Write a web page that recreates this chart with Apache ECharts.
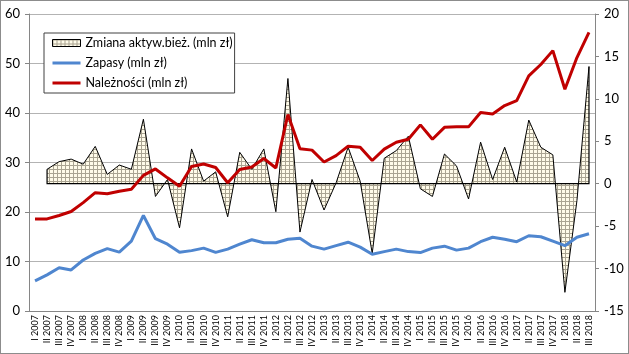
<!DOCTYPE html>
<html>
<head>
<meta charset="utf-8">
<script src="https://cdn.jsdelivr.net/npm/echarts@6/dist/echarts.min.js"></script>
<style>
  html, body { margin: 0; padding: 0; background: #fff; }
  #main { width: 627px; height: 352px; border: 1px solid #8c8c8c; }
</style>
</head>
<body>
<div id="main"></div>
<script>
// kwartały I 2007 - III 2018
var years = [2007, 2008, 2009, 2010, 2011, 2012, 2013, 2014, 2015, 2016, 2017, 2018];
var quarters = ['I', 'II', 'III', 'IV'];
var categories = [];
years.forEach(function (y) {
    quarters.forEach(function (q) {
        categories.push(q + ' ' + y);
    });
});
categories = categories.slice(0, 47);

var leftTicks = [0, 10, 20, 30, 40, 50, 60];
var rightTicks = [-15, -10, -5, 0, 5, 10, 15, 20];

// prawa oś
var zmiana = [null, 1.7, 2.6, 2.9, 2.3, 4.4, 1.1, 2.2, 1.7, 7.6, -1.5, 0.5, -5.2, 4.1, 0.3, 1.4,
    -3.9, 3.7, 1.7, 4.1, -3.3, 12.4, -5.7, 0.5, -3.1, 0.1, 4.3, 0.3, -8.2, 3.0, 3.9, 5.6,
    -0.6, -1.5, 3.5, 2.1, -1.8, 4.9, 0.5, 4.3, 0.2, 7.5, 4.3, 3.4, -12.8, -2.0, 13.8];
// lewa oś
var zapasy = [6.1, 7.3, 8.75, 8.3, 10.3, 11.65, 12.6, 11.9, 14.1, 19.3, 14.6, 13.5, 11.85, 12.2, 12.7, 11.85,
    12.5, 13.5, 14.4, 13.8, 13.8, 14.5, 14.7, 13.1, 12.5, 13.2, 13.9, 12.9, 11.45, 12.0, 12.5, 12.0,
    11.8, 12.7, 13.1, 12.3, 12.7, 14.0, 14.9, 14.5, 14.0, 15.2, 15.0, 14.1, 13.2, 14.9, 15.6];
var naleznosci = [18.6, 18.6, 19.3, 20.1, 21.9, 23.9, 23.7, 24.2, 24.6, 27.4, 28.7, 26.9, 25.2, 29.2, 29.7, 29.0,
    25.9, 28.6, 29.1, 30.8, 28.9, 39.7, 32.8, 32.5, 30.1, 31.4, 33.3, 33.1, 30.4, 32.7, 34.1, 34.7,
    37.6, 34.7, 37.1, 37.2, 37.2, 40.1, 39.8, 41.5, 42.5, 47.5, 49.8, 52.6, 44.8, 51.2, 56.3];

var nameZmiana = 'Zmiana aktyw.bież. (mln zł)';
var nameZapasy = 'Zapasy (mln zł)';
var nameNal = 'Należności (mln zł)';

// kratka do wypełnienia obszaru
var pat = document.createElement('canvas');
pat.width = 4;
pat.height = 4;
var ctx = pat.getContext('2d');
ctx.fillStyle = '#fffbe9';
ctx.fillRect(0, 0, 4, 4);
ctx.fillStyle = '#aaa492';
ctx.fillRect(0, 0, 4, 1);
ctx.fillRect(0, 0, 1, 4);
var hatch = { image: pat, repeat: 'repeat' };

// sama linia w legendzie, bez kółka
var lineIcon = 'path://M0,2H28V5H0Z M0,0H0.01V0.01H0Z M0,7H0.01V6.99H0Z';

var font = 'Lato';

var myChart = echarts.init(document.getElementById('main'));
var option = {
    animation: false,
    textStyle: { fontFamily: font },
    grid: { left: 28, right: 33, top: 13, bottom: 42 },
    legend: {
        orient: 'vertical',
        left: 43,
        top: 32,
        padding: [2, 2, 2, 8],
        itemGap: 4,
        itemWidth: 28,
        itemHeight: 7,
        itemTextGap: 1,
        borderColor: '#404040',
        borderWidth: 1,
        backgroundColor: '#fff',
        textStyle: { fontSize: 12.5, color: '#000', fontFamily: font, lineHeight: 16 },
        data: [
            { name: nameZmiana, icon: 'rect', itemStyle: { color: hatch, borderColor: '#000', borderWidth: 1 } },
            { name: nameZapasy, icon: lineIcon, itemStyle: { color: '#4f86cf' } },
            { name: nameNal, icon: lineIcon, itemStyle: { color: '#c00000' } }
        ]
    },
    xAxis: {
        type: 'category',
        data: categories,
        boundaryGap: true,
        axisLine: { lineStyle: { color: '#868686' } },
        axisTick: { interval: 0, length: 4, lineStyle: { color: '#868686' } },
        axisLabel: { interval: 0, rotate: 90, fontSize: 9, color: '#000', margin: 4 }
    },
    yAxis: [{
        type: 'value',
        min: leftTicks[0],
        max: leftTicks[leftTicks.length - 1],
        interval: 10,
        axisLine: { show: true, lineStyle: { color: '#868686' } },
        axisTick: { show: true, length: 4, lineStyle: { color: '#868686' } },
        axisLabel: { fontSize: 13, color: '#000', margin: 9 },
        splitLine: { lineStyle: { color: '#b3b3b3' } }
    }, {
        type: 'value',
        min: rightTicks[0],
        max: rightTicks[rightTicks.length - 1],
        interval: 5,
        axisLine: { show: true, lineStyle: { color: '#868686' } },
        axisTick: { show: true, length: 4, lineStyle: { color: '#868686' } },
        axisLabel: { fontSize: 13, color: '#000', margin: 9 },
        splitLine: { show: false }
    }],
    series: [{
        name: nameZmiana,
        type: 'line',
        yAxisIndex: 1,
        data: zmiana,
        symbol: 'none',
        lineStyle: { color: '#000', width: 1 },
        itemStyle: { color: '#000' },
        areaStyle: { color: hatch, opacity: 1, origin: 0 },
        z: 1
    }, {
        // podstawa i boki obszaru
        type: 'custom',
        yAxisIndex: 1,
        data: [[0]],
        silent: true,
        z: 2,
        renderItem: function (params, api) {
            var first = 1, last = zmiana.length - 1;
            var pts = [
                api.coord([first, zmiana[first]]),
                api.coord([first, 0]),
                api.coord([last, 0]),
                api.coord([last, zmiana[last]])
            ];
            return {
                type: 'polyline',
                shape: { points: pts },
                style: { stroke: '#000', lineWidth: 1.2, fill: null }
            };
        }
    }, {
        name: nameZapasy,
        type: 'line',
        data: zapasy,
        symbol: 'none',
        lineStyle: { color: '#4f86cf', width: 3 },
        itemStyle: { color: '#4f86cf' },
        z: 3
    }, {
        name: nameNal,
        type: 'line',
        data: naleznosci,
        symbol: 'none',
        lineStyle: { color: '#c00000', width: 3 },
        itemStyle: { color: '#c00000' },
        z: 4
    }]
};
myChart.setOption(option);
</script>
</body>
</html>
